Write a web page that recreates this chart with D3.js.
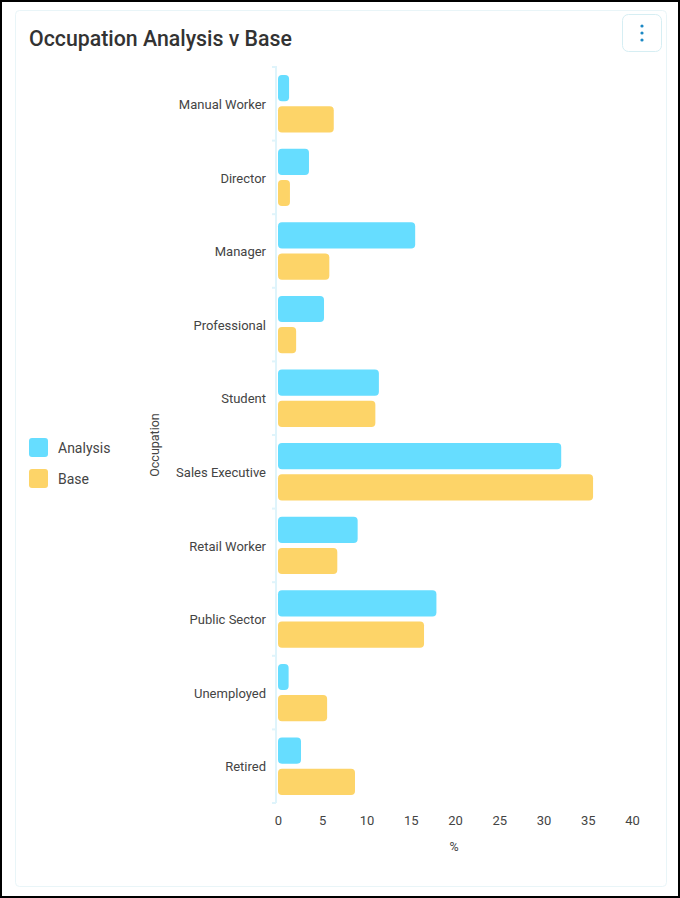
<!DOCTYPE html>
<html>
<head>
<meta charset="utf-8">
<script src="https://cdn.jsdelivr.net/npm/d3@7"></script>
<style>
  html, body { margin: 0; padding: 0; background: #fff; }
  #frame { width: 680px; height: 898px; box-sizing: border-box; border: 2px solid #000; position: relative; overflow: hidden; }
  svg { position: absolute; left: -2px; top: -2px; font-family: Roboto, "Noto Sans", sans-serif; }
</style>
</head>
<body>
<div id="frame"><svg id="chart" width="680" height="898"></svg></div>
<script>
var occupations = ["Manual Worker","Director","Manager","Professional","Student","Sales Executive","Retail Worker","Public Sector","Unemployed","Retired"]
var seriesNames = ["Analysis","Base"]
var analysisPct = [1.25, 3.5, 15.5, 5.2, 11.4, 32.0, 9.0, 17.9, 1.2, 2.6]
var basePct = [6.3, 1.35, 5.8, 2.05, 11.0, 35.6, 6.7, 16.5, 5.55, 8.7]
var xTicks = [0,5,10,15,20,25,30,35,40]
var colors = {"Analysis":"#66ddff","Base":"#fdd468"}

var svg = d3.select("#chart")

// card
svg.append("rect")
  .attr("x",15.5).attr("y",10.5).attr("width",651).attr("height",876)
  .attr("rx",4).attr("fill","#fff").attr("stroke","#e9f5f8")

svg.append("text")
  .attr("x",29).attr("y",46)
  .attr("font-size",21.3).attr("font-weight",500).attr("fill","#333")
  .text("Occupation Analysis v Base")

// menu button
var menu = svg.append("g")
menu.append("rect")
  .attr("x",622.5).attr("y",14.5).attr("width",39).attr("height",37)
  .attr("rx",6).attr("fill","#fff").attr("stroke","#d6eef3")
;[26,33,40].forEach(function(cy){
  menu.append("circle").attr("cx",642).attr("cy",cy).attr("r",1.6).attr("fill","#1b88c4")
})

var rows = occupations.map(function(o,i){
  return {name:o, values:[{key:"Analysis",v:analysisPct[i]},{key:"Base",v:basePct[i]}]}
})

var x = d3.scaleLinear().domain([0,40]).range([278,632])
var y0 = d3.scaleBand().domain(occupations).range([67,803]).padding(0)
var y1 = d3.scaleBand().domain(seriesNames).range([0,y0.bandwidth()])
  .paddingInner(0.16).paddingOuter(0.26)

// axis line + boundary ticks
var axisCol = "#dff4fb"
svg.append("line").attr("x1",276).attr("x2",276).attr("y1",66).attr("y2",803)
  .attr("stroke",axisCol).attr("stroke-width",2)
var bounds = occupations.map(function(o){return y0(o)}).concat([y0.range()[1]])
svg.selectAll(".btick").data(bounds).enter().append("line")
  .attr("x1",272).attr("x2",276).attr("y1",function(d){return d}).attr("y2",function(d){return d})
  .attr("stroke",axisCol).attr("stroke-width",2)

// category labels
var yAxis = svg.append("g").attr("transform","translate(268,1)")
  .call(d3.axisLeft(y0).tickSize(0).tickPadding(2))
yAxis.select(".domain").remove()
yAxis.selectAll("text").attr("font-size",13).attr("fill","#444").attr("font-family","Roboto, sans-serif")

svg.append("text")
  .attr("transform","translate(159,445) rotate(-90)")
  .attr("text-anchor","middle").attr("font-size",12.5).attr("fill","#444")
  .text("Occupation")

// bars
var groups = svg.selectAll(".grp").data(rows).enter().append("g")
  .attr("transform",function(d){return "translate(0,"+y0(d.name)+")"})
groups.selectAll("rect").data(function(d){return d.values}).enter().append("rect")
  .attr("x",x(0))
  .attr("y",function(d){return y1(d.key)})
  .attr("width",function(d){return x(d.v)-x(0)})
  .attr("height",y1.bandwidth())
  .attr("rx",4)
  .attr("fill",function(d){return colors[d.key]})

// x axis
var xAxis = svg.append("g").attr("transform","translate(0,810)")
  .call(d3.axisBottom(x).tickValues(xTicks).tickSize(0).tickPadding(6))
xAxis.select(".domain").remove()
xAxis.selectAll("text").attr("font-size",13).attr("fill","#444").attr("font-family","Roboto, sans-serif")

svg.append("text")
  .attr("x",454).attr("y",851).attr("text-anchor","middle")
  .attr("font-size",12.5).attr("fill","#444").text("%")

// legend
var leg = svg.selectAll(".leg").data(seriesNames).enter().append("g")
  .attr("transform",function(d,i){return "translate(29,"+(438+i*31)+")"})
leg.append("rect").attr("width",19).attr("height",19).attr("rx",3)
  .attr("fill",function(d){return colors[d]})
leg.append("text").attr("x",29).attr("y",10).attr("dy","0.35em")
  .attr("font-size",14).attr("fill","#444").text(function(d){return d})
</script>
</body>
</html>
